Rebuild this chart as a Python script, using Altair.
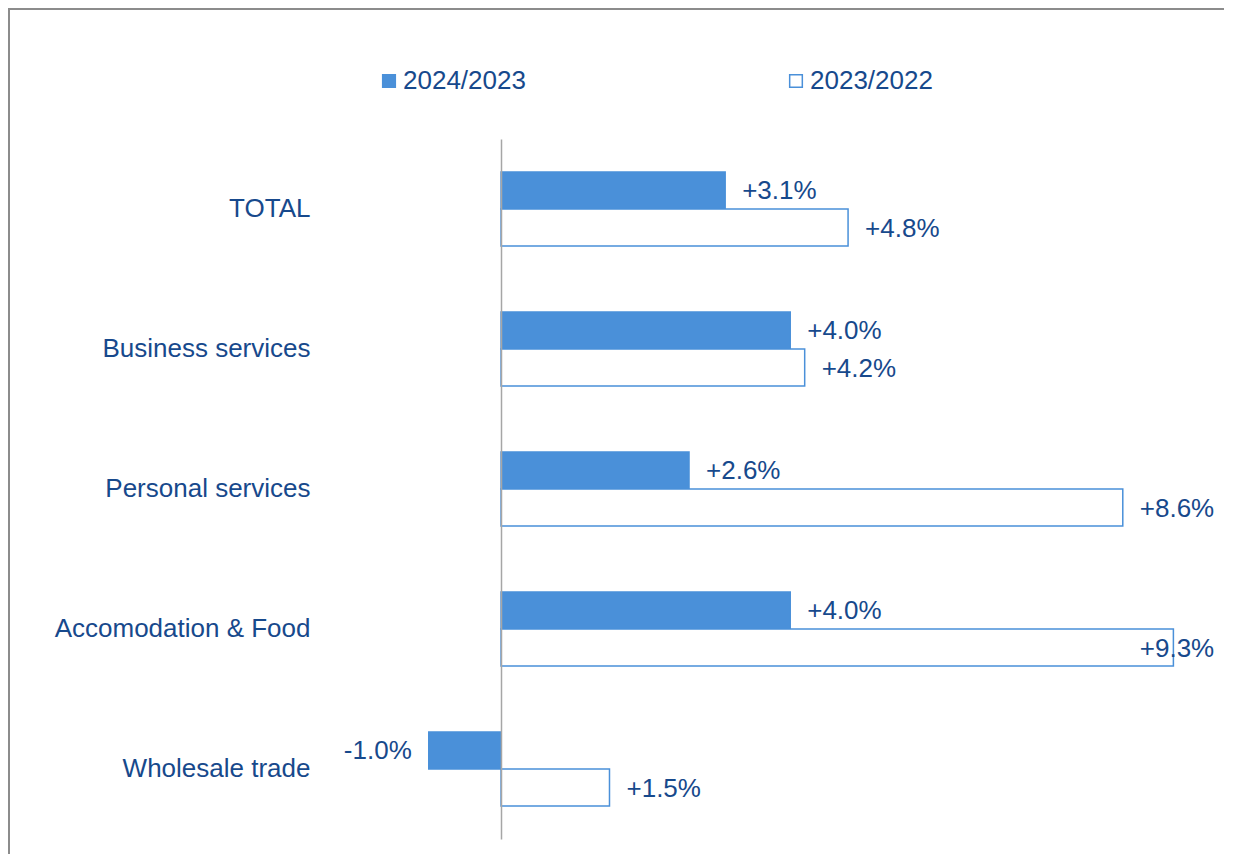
import altair as alt
import pandas as pd

categories = ["TOTAL", "Business services", "Personal services", "Accomodation & Food", "Wholesale trade"]
series = ["2024/2023", "2023/2022"]
v_2024_2023 = [3.1, 4.0, 2.6, 4.0, -1.0]
v_2023_2022 = [4.8, 4.2, 8.6, 9.3, 1.5]

rows = []
for c, a, b in zip(categories, v_2024_2023, v_2023_2022):
    rows.append({"category": c, "series": series[0], "value": a})
    rows.append({"category": c, "series": series[1], "value": b})
df = pd.DataFrame(rows)

BLUE = "#4a90d9"
TEXT = "#17498c"
FONT = "Liberation Sans"
FS = 26
W, H = 1216, 846

xscale = alt.Scale(domain=[-6.82, 10.0], nice=False, zero=False)
y = alt.Y(
    "category:N", sort=categories,
    scale=alt.Scale(domain=categories, range=[131, 831], paddingInner=0.471, paddingOuter=0.2355),
    axis=alt.Axis(title=None, ticks=False, tickSize=0, offset=-493, labelPadding=191,
                  labelFontSize=FS, labelColor=TEXT, labelFont=FONT, labelLimit=400,
                  domainColor="#a6a6a6", domainWidth=1.5, zindex=1, grid=False),
)
yoff = alt.YOffset("series:N", sort=series,
                   scale=alt.Scale(domain=series, paddingInner=0, paddingOuter=0))

bars = alt.Chart(df).mark_bar(stroke=BLUE, strokeWidth=1.5).encode(
    x=alt.X("value:Q", scale=xscale, axis=None),
    y=y,
    yOffset=yoff,
    fill=alt.Fill(
        "series:N", sort=series,
        scale=alt.Scale(domain=series, range=[BLUE, "#ffffff"]),
        legend=alt.Legend(title=None, orient="none", legendX=368, legendY=60,
                          direction="horizontal", symbolType="square", symbolSize=160,
                          symbolStrokeColor=BLUE, symbolStrokeWidth=1.5,
                          labelFontSize=FS, labelColor=TEXT, labelFont=FONT,
                          labelOffset=1, columnPadding=257),
    ),
)

base_t = alt.Chart(df).transform_calculate(
    label="(datum.value < 0 ? '-' : '+') + format(abs(datum.value), '.1f') + '%'",
    lx="datum.value < 0 ? datum.value : min(datum.value, 8.6)",
)
pos = base_t.transform_filter("datum.value >= 0").mark_text(
    align="left", baseline="middle", dx=17, dy=1, fontSize=FS, font=FONT, color=TEXT
).encode(x=alt.X("lx:Q", scale=xscale, axis=None), y=y, yOffset=yoff, text="label:N")
neg = base_t.transform_filter("datum.value < 0").mark_text(
    align="right", baseline="middle", dx=-17, dy=1, fontSize=FS, font=FONT, color=TEXT
).encode(x=alt.X("lx:Q", scale=xscale, axis=None), y=y, yOffset=yoff, text="label:N")

one = pd.DataFrame({"a": [0]})
frame_top = alt.Chart(one).mark_rule(color="#8c8c8c", strokeWidth=2).encode(
    x=alt.value(0), x2=alt.value(W), y=alt.value(1))
frame_left = alt.Chart(one).mark_rule(color="#8c8c8c", strokeWidth=2).encode(
    x=alt.value(1), y=alt.value(0), y2=alt.value(H))

chart = alt.layer(bars, pos, neg, frame_top, frame_left).properties(
    width=W, height=H, padding=0,
    autosize=alt.AutoSizeParams(type="none"),
).configure_view(stroke=None)

chart.save("out.html", embed_options={"renderer": "svg", "actions": False})
